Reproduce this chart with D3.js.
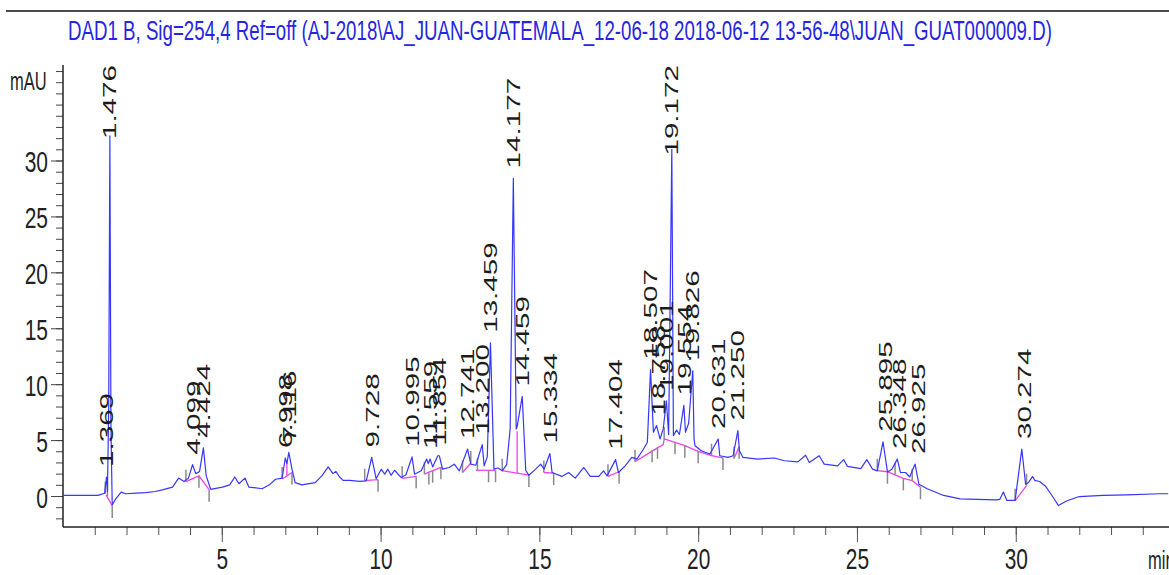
<!DOCTYPE html>
<html lang="en">
<head>
<meta charset="utf-8">
<title>DAD1 B chromatogram</title>
<script src="https://d3js.org/d3.v7.min.js"></script>
<style>
  body { margin: 0; background: #fff; }
  svg { display: block; font-family: "Liberation Sans", Arial, sans-serif; }
</style>
</head>
<body>
<svg id="chart" width="1169" height="575"></svg>
<script>
// title of the run
var title = "DAD1 B, Sig=254,4 Ref=off (AJ-2018\\AJ_JUAN-GUATEMALA_12-06-18 2018-06-12 13-56-48\\JUAN_GUAT000009.D)";

// signal trace: [time (min), mAU]
var trace = [
  [0,0.05],[1.1,0.05],[1.31,0.25],[1.369,1.7],[1.40,0.4],[1.44,8],[1.476,32.2],[1.51,6],[1.55,-0.8],
  [1.65,-0.3],[1.83,0.35],[1.98,0.2],[2.3,0.25],[2.61,0.3],[2.9,0.4],[3.13,0.55],[3.45,0.8],[3.64,1.6],
  [3.81,1.3],[3.95,1.6],[4.08,2.8],[4.18,2.0],[4.3,2.2],[4.42,4.3],[4.51,1.8],[4.65,0.6],[5.02,0.8],
  [5.25,1.0],[5.41,1.7],[5.54,1.1],[5.73,1.6],[5.85,0.8],[6.27,0.65],[6.5,1.0],[6.69,1.5],[6.9,1.6],
  [7.0,3.4],[7.05,2.9],[7.11,3.9],[7.21,2.4],[7.31,1.2],[7.52,1.0],[7.94,1.2],[8.15,1.8],[8.35,2.6],
  [8.5,2.0],[8.59,2.2],[8.71,1.7],[8.82,1.4],[9.03,1.4],[9.34,1.3],[9.55,1.35],[9.72,3.45],[9.86,1.55],
  [10.02,2.4],[10.13,1.95],[10.23,2.4],[10.33,1.85],[10.44,2.3],[10.65,1.65],[10.8,1.9],[10.99,3.5],
  [11.07,1.95],[11.28,2.25],[11.45,3.3],[11.5,2.9],[11.56,3.3],[11.64,2.6],[11.8,3.6],[11.85,3.6],
  [11.95,2.4],[12.16,2.55],[12.32,2.85],[12.48,2.25],[12.74,4.2],[12.84,2.85],[13.0,2.75],[13.2,4.6],
  [13.26,2.7],[13.36,3.5],[13.46,13.7],[13.57,2.4],[13.7,2.5],[13.83,2.25],[13.97,2.8],[14.08,6],
  [14.18,28.4],[14.27,6.0],[14.3,6.2],[14.46,8.9],[14.57,2.3],[14.67,1.85],[14.88,2.4],[15.04,2.85],
  [15.15,2.4],[15.33,3.8],[15.4,2.1],[15.71,1.75],[15.92,2.1],[16.13,1.6],[16.4,2.55],[16.6,1.75],
  [16.87,1.75],[17.02,2.25],[17.13,1.8],[17.4,3.25],[17.49,2.1],[17.7,2.7],[17.91,3.45],[18.07,3.3],
  [18.28,4.2],[18.4,4.8],[18.5,11.3],[18.59,5.7],[18.69,6.3],[18.8,5.1],[18.9,6.0],[19.0,8.5],
  [19.07,5.5],[19.17,31.0],[19.22,5.4],[19.32,5.9],[19.41,5.5],[19.55,8.1],[19.6,5.7],[19.7,6.5],
  [19.83,11.2],[19.87,5.1],[19.9,4.5],[20.1,4.05],[20.37,3.75],[20.63,5.1],[20.68,3.6],[20.94,3.45],
  [21.1,3.6],[21.25,5.85],[21.3,4.05],[21.41,3.45],[21.88,3.3],[22.09,3.35],[22.4,3.4],[22.72,3.15],
  [23.14,3.05],[23.38,3.65],[23.5,3.0],[23.81,3.6],[23.97,2.85],[24.39,2.7],[24.58,3.25],[24.7,2.65],
  [25.12,2.45],[25.31,3.25],[25.49,2.4],[25.64,2.25],[25.82,4.85],[25.96,2.15],[26.1,2.4],[26.27,3.3],
  [26.37,2.1],[26.53,2.1],[26.66,1.7],[26.83,2.86],[26.95,1.05],[27.21,0.65],[27.73,0.05],[28.25,-0.25],
  [28.78,-0.3],[29.4,-0.35],[29.5,-0.3],[29.61,0.35],[29.72,-0.4],[29.98,-0.4],[30.19,4.2],[30.31,1.05],
  [30.4,1.2],[30.53,1.75],[30.6,1.4],[30.75,1.3],[30.93,0.9],[31.15,0.0],[31.34,-0.85],[31.6,-0.45],
  [32.0,-0.05],[32.75,0.05],[33.5,0.1],[34.52,0.2],[34.8,0.2]
];

// integrated peaks: retention time and apex height (mAU)
var peakTimes   = [1.369,1.476,4.099,4.424,6.998,7.116,9.728,10.995,11.559,11.854,12.741,13.200,13.459,14.177,14.459,
                   15.334,17.404,18.507,18.758,19.001,19.172,19.554,19.826,20.631,21.250,25.895,26.348,26.925,30.274];
var peakHeights = [1.7,32.2,2.8,4.3,3.4,3.9,3.45,3.5,3.3,3.6,4.2,4.6,13.7,28.4,8.9,
                   3.8,3.25,11.3,6.3,8.5,31.0,8.1,11.2,5.1,5.85,4.85,3.3,2.86,4.2];

// integration baselines (magenta)
var baselines = [
  [[1.36,0.1],[1.55,-0.9]],
  [[3.87,1.28],[4.28,1.8],[4.6,0.56]],
  [[6.9,1.52],[7.21,2.1]],
  [[7.05,1.8],[7.05,3.0]],
  [[9.5,1.37],[9.92,1.46]],
  [[10.68,1.58],[11.12,1.76]],
  [[11.38,1.96],[11.64,2.26],[11.9,2.56]],
  [[12.58,2.1],[12.84,2.95]],
  [[13.0,2.3],[13.62,2.3]],
  [[13.83,2.26],[14.67,1.87]],
  [[14.3,2.05],[14.3,5.8]],
  [[15.14,2.1],[15.45,2.05]],
  [[17.16,1.76],[17.51,2.17]],
  [[18.01,3.06],[18.6,4.1],[18.9,4.6],[18.93,5.1],[19.27,4.8],[19.58,4.5],[20.0,4.0],[20.42,3.6],[20.78,3.4]],
  [[21.13,3.36],[21.29,4.4]],
  [[25.64,2.26],[25.96,2.17],[26.46,1.58],[26.74,1.37],[27.0,0.78]],
  [[29.98,-0.42],[30.34,0.92]]
];

// peak start / end marks: [time, mAU, 1 = up, -1 = down]
var marks = [
  [1.33,0.2,1],[1.40,0.0,1],[1.55,-0.9,-1],
  [3.87,1.28,1],[4.28,1.8,-1],[4.6,0.56,-1],
  [6.9,1.52,1],[7.21,2.1,-1],
  [9.5,1.37,1],[9.92,1.46,-1],
  [10.68,1.58,1],[11.12,1.76,-1],[11.38,1.96,1],[11.52,2.1,-1],[11.64,2.26,-1],[11.9,2.56,-1],
  [12.58,2.1,1],[12.84,2.95,1],
  [13.05,2.3,1],[13.4,2.3,-1],[13.62,2.3,-1],
  [13.83,2.26,1],[14.67,1.87,-1],
  [15.14,2.1,1],[15.45,2.05,-1],
  [17.16,1.76,1],[17.51,2.17,-1],
  [18.01,3.06,1],[18.55,4.1,-1],[18.72,4.4,-1],[18.93,5.1,1],[19.27,4.8,-1],[19.58,4.5,-1],
  [20.0,4.0,-1],[20.42,3.6,1],[20.78,3.4,-1],
  [21.13,3.36,1],[21.29,4.4,-1],
  [25.64,2.26,1],[25.96,2.17,-1],[26.2,1.9,1],[26.46,1.58,-1],[26.74,1.37,1],[27.0,0.78,-1],
  [29.98,-0.42,1],[30.34,0.92,1]
];

var xMajor = [5,10,15,20,25,30];
var yMajor = [0,5,10,15,20,25,30];

var svg = d3.select('#chart');

var x = d3.scaleLinear().domain([0, 34.8]).range([63, 1168.2]);
var y = d3.scaleLinear().domain([0, 30]).range([496, 160.5]);
var axisX = 63, axisY = 527, topY = 65;

// top rule
svg.append('line').attr('x1', 6).attr('x2', 1169).attr('y1', 11).attr('y2', 11)
   .attr('stroke', '#111').attr('stroke-width', 1.5);

// title, squeezed to the width it has in the print
var tt = svg.append('text')
   .attr('font-size', 27)
   .attr('fill', '#2626e0')
   .text(title);
var tw = tt.node().getComputedTextLength();
tt.attr('transform', 'translate(68,40) scale(' + (984 / tw) + ',1)');

// y axis: minor then major
var yMinor = d3.range(-2, 39);
svg.append('g')
   .attr('transform', 'translate(' + axisX + ',0)')
   .call(d3.axisLeft(y).tickValues(yMinor).tickSize(7).tickFormat(''))
   .call(function(g) { g.select('.domain').remove(); g.selectAll('line').attr('stroke', '#444'); });

var gy = svg.append('g')
   .attr('transform', 'translate(' + axisX + ',0)')
   .call(d3.axisLeft(y).tickValues(yMajor).tickSize(12).tickFormat(d3.format('d')));
gy.select('.domain').remove();
gy.selectAll('line').attr('stroke', '#444');
gy.selectAll('text')
  .attr('x', null).attr('dy', null)
  .attr('font-size', 30).attr('fill', '#222')
  .attr('font-family', '"Liberation Sans", Arial, sans-serif')
  .attr('text-anchor', 'end')
  .attr('transform', 'translate(-15,11) scale(0.7,1)');

// x axis
var xMinor = d3.range(1, 35);
svg.append('g')
   .attr('transform', 'translate(0,' + axisY + ')')
   .call(d3.axisBottom(x).tickValues(xMinor).tickSize(8).tickFormat(''))
   .call(function(g) { g.select('.domain').remove(); g.selectAll('line').attr('stroke', '#555'); });

var gx = svg.append('g')
   .attr('transform', 'translate(0,' + axisY + ')')
   .call(d3.axisBottom(x).tickValues(xMajor).tickSize(15).tickFormat(d3.format('d')));
gx.select('.domain').remove();
gx.selectAll('line').attr('stroke', '#555');
gx.selectAll('text')
  .attr('y', null).attr('dy', null)
  .attr('font-size', 29).attr('fill', '#222')
  .attr('font-family', '"Liberation Sans", Arial, sans-serif')
  .attr('text-anchor', 'middle')
  .attr('transform', 'translate(0,42) scale(0.72,1)');

// axis lines
svg.append('line').attr('x1', axisX).attr('x2', axisX).attr('y1', topY).attr('y2', axisY)
   .attr('stroke', '#222').attr('stroke-width', 1.5);
svg.append('line').attr('x1', axisX).attr('x2', 1169).attr('y1', axisY).attr('y2', axisY)
   .attr('stroke', '#222').attr('stroke-width', 1.5);

svg.append('text').attr('font-size', 25).attr('fill', '#222')
   .attr('transform', 'translate(10,90) scale(0.66,1)').text('mAU');
svg.append('text').attr('font-size', 25).attr('fill', '#222')
   .attr('transform', 'translate(1148,569) scale(0.66,1)').text('min');

// baselines
var line = d3.line().x(function(d) { return x(d[0]); }).y(function(d) { return y(d[1]); });

svg.append('g').selectAll('path')
   .data(baselines).enter().append('path')
   .attr('d', line).attr('fill', 'none')
   .attr('stroke', '#f040f0').attr('stroke-width', 1.3);

// peak marks
svg.append('g').selectAll('line')
   .data(marks).enter().append('line')
   .attr('x1', function(d) { return x(d[0]); })
   .attr('x2', function(d) { return x(d[0]); })
   .attr('y1', function(d) { return y(d[1]); })
   .attr('y2', function(d) { return y(d[1]) - d[2] * 12; })
   .attr('stroke', '#8a8a8a').attr('stroke-width', 1.5);

// signal
svg.append('path')
   .datum(trace)
   .attr('d', line)
   .attr('fill', 'none')
   .attr('stroke', '#3636ff')
   .attr('stroke-width', 1.2)
   .attr('stroke-linejoin', 'round');

// retention time labels
var labels = svg.append('g');
peakTimes.forEach(function(rt, i) {
  var t = labels.append('text')
     .attr('font-size', 18.5)
     .attr('fill', '#1c1c1c')
     .text(rt.toFixed(3));
  var len = t.node().getComputedTextLength() * 1.6;
  var bottom = Math.max(y(peakHeights[i]) - 10, topY + len);
  t.attr('transform', 'translate(' + (x(rt) + 6.6) + ',' + bottom + ') rotate(-90) scale(1.6,1)');
});
</script>
</body>
</html>
